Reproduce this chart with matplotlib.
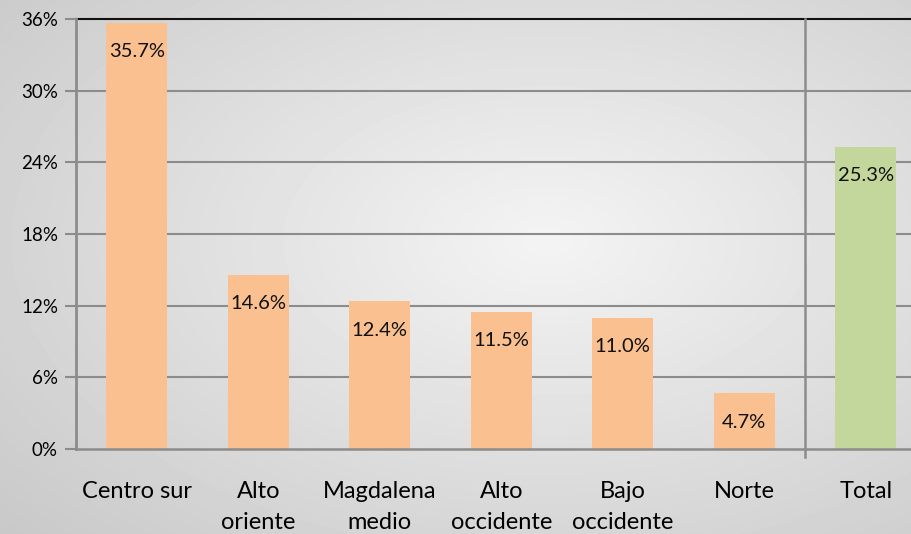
import numpy as np
import matplotlib
matplotlib.use("Agg")
import matplotlib.pyplot as plt

categories = ["Centro sur", "Alto\noriente", "Magdalena\nmedio", "Alto\noccidente", "Bajo\noccidente", "Norte", "Total"]
values = [35.7, 14.6, 12.4, 11.5, 11.0, 4.7, 25.3]
labels = ["35.7%", "14.6%", "12.4%", "11.5%", "11.0%", "4.7%", "25.3%"]
yticks = [0, 6, 12, 18, 24, 30, 36]
ytick_labels = ["0%", "6%", "12%", "18%", "24%", "30%", "36%"]

plt.rcParams['font.family'] = ['Lato', 'DejaVu Sans']

W, H = 911, 534
fig = plt.figure(figsize=(W / 100, H / 100), dpi=100)

# radial gradient background
bg = fig.add_axes([0, 0, 1, 1], zorder=0)
yy, xx = np.mgrid[0:H, 0:W]
cx, cy = W * 0.6, H * 0.45
r = np.sqrt(((xx - cx) / W) ** 2 + ((yy - cy) / H) ** 2)
r = r / r.max()
val = 0.955 - 0.17 * r
bg.imshow(val, cmap='gray', vmin=0, vmax=1, aspect='auto', extent=[0, 1, 0, 1])
bg.axis('off')

left = 76 / W
bottom = (H - 449) / H
height = (449 - 19) / H
width = 7 * 121.5 / W
ax = fig.add_axes([left, bottom, width, height], zorder=1)
ax.patch.set_alpha(0)

x = np.arange(len(categories))
colors = ['#FAC090'] * 6 + ['#C3D69B']
ax.bar(x, values, width=0.5, color=colors, zorder=2)

for xi, v, lab in zip(x, values, labels):
    ax.annotate(lab, (xi, v), xytext=(0, -21), textcoords='offset points',
                ha='center', va='center', fontsize=14.5, color='#111111', zorder=3)

ax.set_xlim(-0.5, 6.5)
ax.set_ylim(0, 36)
ax.set_yticks(yticks)
ax.set_yticklabels(ytick_labels, fontsize=13.5)
ax.set_xticks(x)
ax.set_xticklabels(categories, fontsize=17, linespacing=1.62, va='top')
ax.tick_params(axis='x', length=0, pad=23)
ax.tick_params(axis='y', length=8, width=1.5, color='#8c8c8c', direction='out', pad=5)

for yt in yticks[1:-1]:
    ax.axhline(yt, color='#8c8c8c', lw=1.5, zorder=1)
ax.axhline(36, color='#111111', lw=1.5, zorder=1, clip_on=False)

# separator before Total
ax.plot([5.5, 5.5], [-0.7, 36], color='#8c8c8c', lw=1.8, clip_on=False, zorder=1)

for s in ['top', 'right']:
    ax.spines[s].set_visible(False)
ax.spines['left'].set_color('#8c8c8c')
ax.spines['left'].set_linewidth(2)
ax.spines['bottom'].set_color('#8c8c8c')
ax.spines['bottom'].set_linewidth(1.8)

fig.savefig('out.png', dpi=100)
